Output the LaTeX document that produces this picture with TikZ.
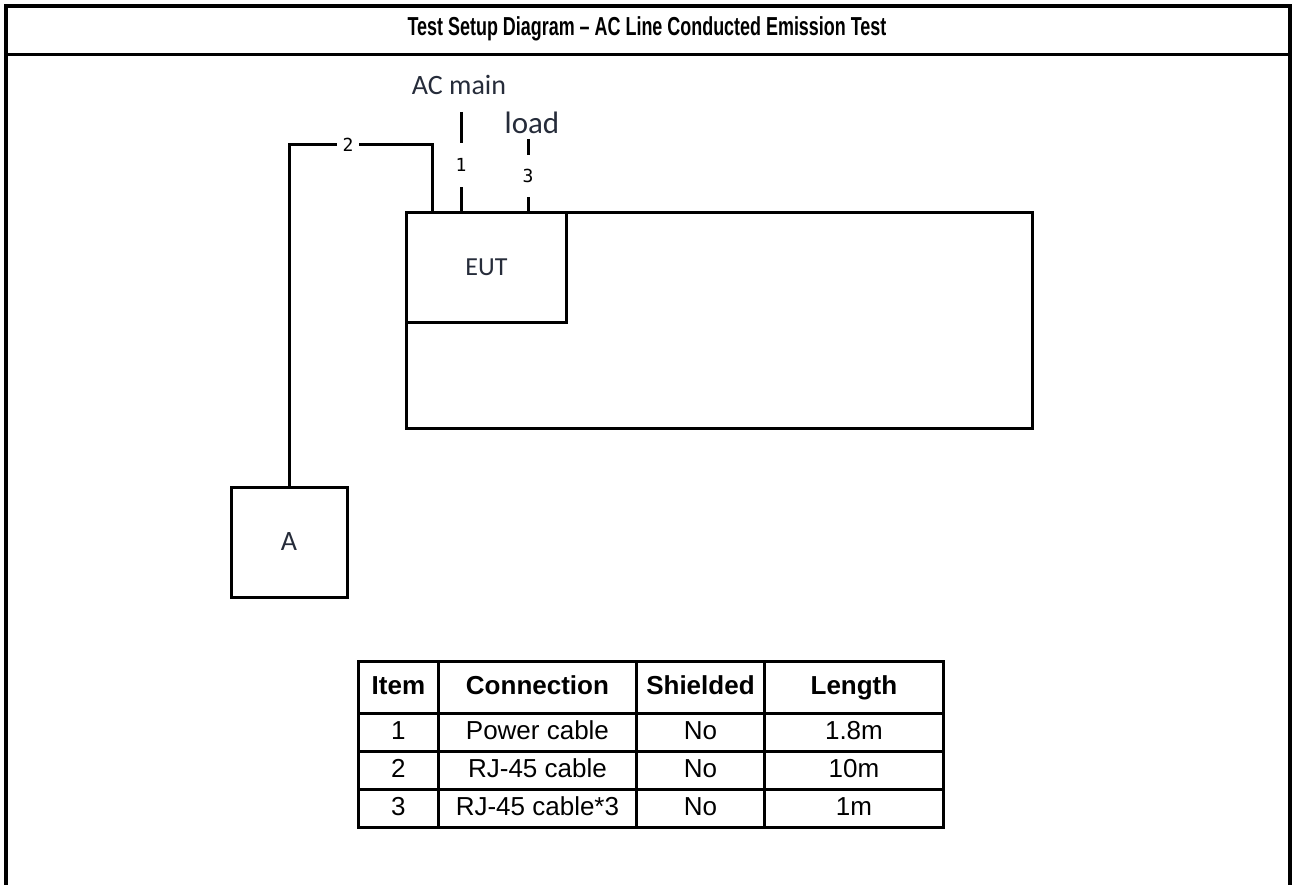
\documentclass[tikz,border=0pt]{standalone}
\usepackage{fontspec}
\setmainfont{Liberation Sans}
\newfontfamily\calibri{Carlito}
\newfontfamily\consolas{DejaVu Sans Mono}
\usetikzlibrary{matrix,positioning,calc}
\definecolor{labelink}{RGB}{38,44,58}

\begin{document}
\begin{tikzpicture}[x=1pt,y=-1pt,
  frame/.style={line width=3.5pt},
  cable/.style={line width=3pt},
  unit/.style={draw,line width=3pt,text=labelink,font=\calibri\fontsize{26}{30}\selectfont},
  cablenum/.style={inner sep=0pt,font=\consolas\fontsize{18}{22}\selectfont},
  tag/.style={text=labelink,inner sep=0pt,font=\calibri\fontsize{28}{32}\selectfont}]
\useasboundingbox (0,0) rectangle (1292,885);
\draw[frame] (6,885) -- (6,6) -- (1290,6) -- (1290,885);
\draw[frame] (6,54.5) -- (1290,54.5);
\node (title) at (647,29) {\fontsize{26}{30}\selectfont\bfseries\scalebox{0.69}[1]{Test Setup Diagram – AC Line Conducted Emission Test}};

\node[unit,minimum width=626pt,minimum height=216pt,anchor=north west] (bench) at (405,211) {};
\node[unit,minimum width=160pt,minimum height=110pt,anchor=north west] (eut) at (405,211) {EUT};
\node[unit,minimum width=116pt,minimum height=110pt,font=\calibri\fontsize{28}{32}\selectfont] (aux) at (289,542) {A};

\node[tag] (acmain) at (459,85) {AC main};
\node[tag,font=\calibri\fontsize{31}{36}\selectfont] (load) at (532,123) {load};
\node[cablenum,minimum height=44pt] (n1) at (461,165) {1};
\node[cablenum,minimum height=42pt] (n3) at (528,176) {3};
\node[cablenum,minimum width=22pt] (n2) at (348,145) {2};
\coordinate (ac1) at (461,112);
\coordinate (ld3) at (528,139);
\coordinate (p2) at (432,211);
\draw[cable] (ac1) -- (n1.north) (n1.south) -- (n1.south |- eut.north);
\draw[cable] (ld3) -- (n3.north) (n3.south) -- (n3.south |- eut.north);
\draw[cable] (p2) |- (n2.east) (n2.west) -| (aux.north);

\matrix[matrix of nodes,anchor=north west,inner sep=0pt,
  nodes={draw,line width=2.5pt,anchor=center,inner sep=2pt,minimum height=38pt,
    text height=19pt,text depth=5pt,font=\fontsize{26}{30}\selectfont},
  column sep=-2.5pt,row sep=-2.5pt,
  column 1/.style={nodes={minimum width=80pt}},
  column 2/.style={nodes={minimum width=198pt}},
  column 3/.style={nodes={minimum width=128pt}},
  column 4/.style={nodes={minimum width=179pt}},
  row 1/.style={nodes={minimum height=52pt,font=\fontsize{26}{30}\selectfont\bfseries}}] (cables) at (357,660) {
Item & Connection & Shielded & Length \\
1 & Power cable & No & 1.8m \\
2 & RJ-45 cable & No & 10m \\
3 & RJ-45 cable*3 & No & 1m \\
};
\end{tikzpicture}
\end{document}
